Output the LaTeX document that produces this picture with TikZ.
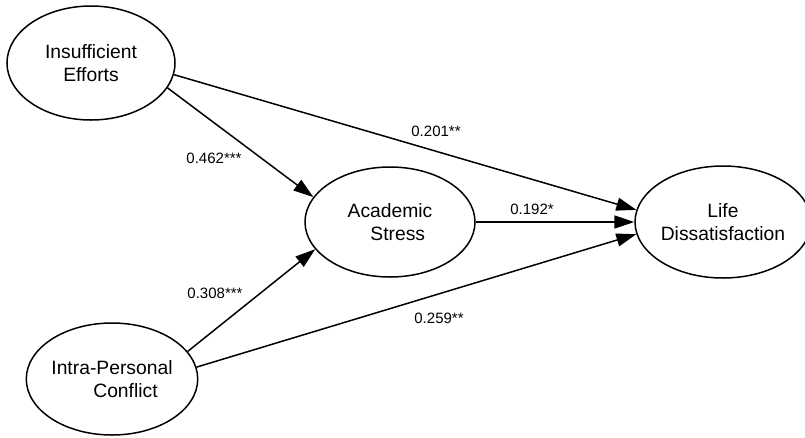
\documentclass[tikz,border=0pt]{standalone}
\usepackage{fontspec}
\setmainfont{Liberation Sans}
\usetikzlibrary{
	shapes.geometric,   %椭圆
	arrows.meta,        %箭头
	positioning
}
\tikzset{
	every picture/.style={
		>={Triangle[length=20pt,width=13pt]},
		line width=1.5pt
}}
\tikzset{latent/.style={ellipse,draw,inner sep=0pt,align=center,
		font=\fontsize{19.3}{23}\selectfont}}
\tikzset{coef/.style={font=\fontsize{15}{18}\selectfont}}

\begin{document}
\begin{tikzpicture}[x=1pt,y=-1pt]
\def\w{168pt}%椭圆宽
\def\h{114pt}%椭圆高
\useasboundingbox (0,0) rectangle (805,437);

%四个潜变量
\node[latent,minimum width=\w,minimum height=\h] (ie) at (91,63) {Insufficient\\Efforts};
\node[latent,minimum width=\w,minimum height=112pt] (ipc) at (112,379) {Intra-Personal\\\hspace*{1.4em}Conflict};
\node[latent,minimum width=170pt,minimum height=110pt] (as) at (390,222) {Academic\\\hspace*{0.8em}Stress};
\node[latent,minimum width=160pt,minimum height=112pt] (ld) at (723,222) {Life\\Dissatisfaction};

%路径
\draw[->] (ie.-18) -- (as.162);
\draw[->] (ipc.20) -- (as.200);
\draw[->] (ie.-8) -- (ld.172);
\draw[->] (as.east) -- (ld.west);
\draw[->] (ipc.8) -- (ld.188);

%路径系数
\node[coef] (c1) at (214,158) {0.462***};
\node[coef] (c2) at (215,293) {0.308***};
\node[coef] (c3) at (436,131) {0.201**};
\node[coef] (c4) at (532,209) {0.192*};
\node[coef] (c5) at (439,318) {0.259**};

\end{tikzpicture}
\end{document}
